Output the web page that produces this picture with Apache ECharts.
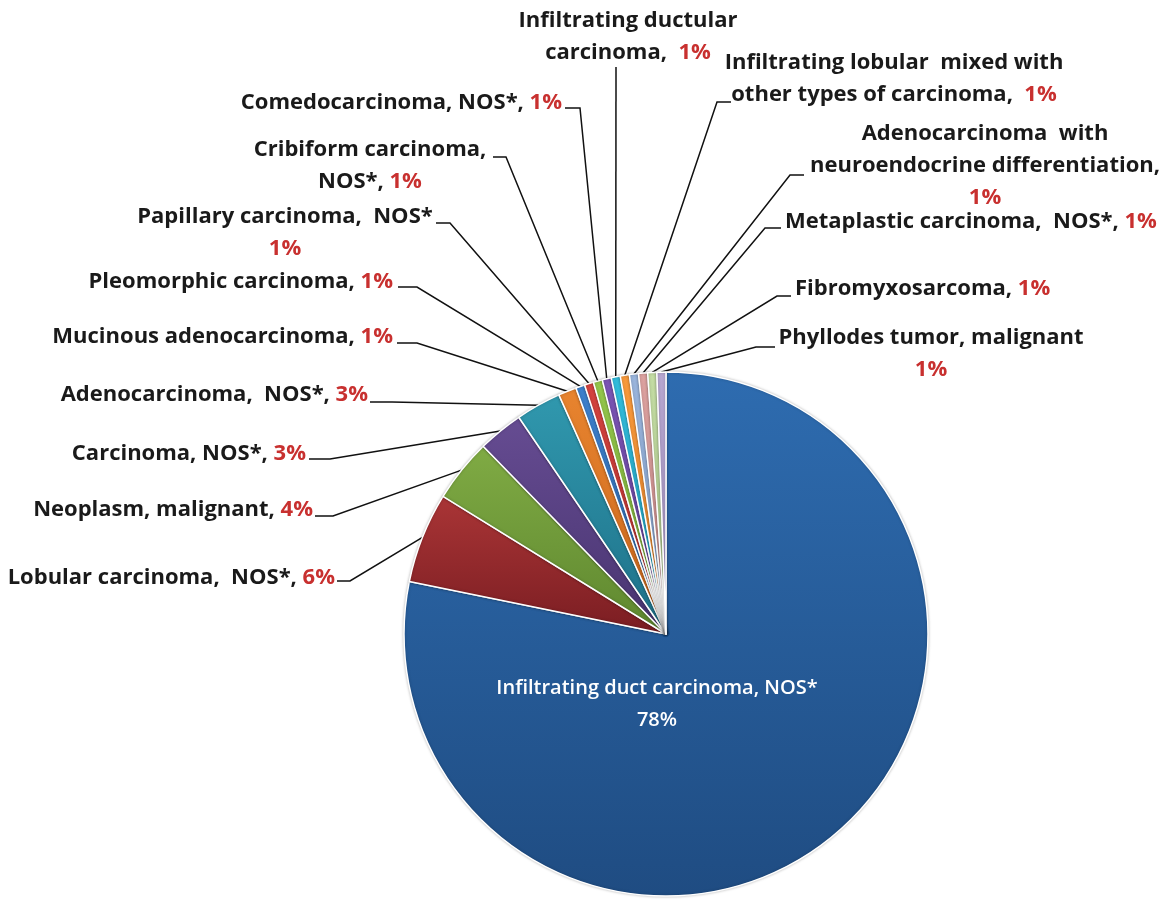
<!DOCTYPE html>
<html>
<head>
<meta charset="utf-8">
<script src="https://cdn.jsdelivr.net/npm/echarts@6/dist/echarts.min.js"></script>
<style>
html, body { margin: 0; background: #fff; }
#main { width: 1165px; height: 902px; }
</style>
</head>
<body>
<div id="main"></div>
<script>
var categories = [
	'Infiltrating duct carcinoma, NOS*', 'Lobular carcinoma, NOS*', 'Neoplasm, malignant',
	'Carcinoma, NOS*', 'Adenocarcinoma, NOS*', 'Mucinous adenocarcinoma', 'Pleomorphic carcinoma',
	'Papillary carcinoma, NOS*', 'Cribiform carcinoma, NOS*', 'Comedocarcinoma, NOS*',
	'Infiltrating ductular carcinoma', 'Infiltrating lobular mixed with other types of carcinoma',
	'Adenocarcinoma with neuroendocrine differentiation', 'Metaplastic carcinoma, NOS*',
	'Fibromyxosarcoma', 'Phyllodes tumor, malignant'
];
// number of cases per type
var cases = [140, 10, 7, 5, 5, 2, 1, 1, 1, 1, 1, 1, 1, 1, 1, 1];
// label text as printed (line breaks included), percentage is appended
var labelNames = [
	'Infiltrating duct carcinoma, NOS*\n',
	'Lobular carcinoma,  NOS*, ',
	'Neoplasm, malignant, ',
	'Carcinoma, NOS*, ',
	'Adenocarcinoma,  NOS*, ',
	'Mucinous adenocarcinoma, ',
	'Pleomorphic carcinoma, ',
	'Papillary carcinoma,  NOS*\n',
	'Cribiform carcinoma,\nNOS*, ',
	'Comedocarcinoma, NOS*, ',
	'Infiltrating ductular\ncarcinoma,  ',
	'Infiltrating lobular  mixed with\nother types of carcinoma,  ',
	'Adenocarcinoma  with\nneuroendocrine differentiation,\n',
	'Metaplastic carcinoma,  NOS*, ',
	'Fibromyxosarcoma, ',
	'Phyllodes tumor, malignant\n'
];

var sliceColors = [
	['#2E6CB0', '#1F4C82'], ['#AA3536', '#7A1D22'], ['#80AB44', '#5E872F'],
	['#664C92', '#483470'], ['#3098AE', '#1E7088'], ['#E8842F', '#C9661C'],
	['#3E80CC', '#2E68AC'], ['#D4433F', '#B83230'], ['#94C64C', '#7AAE38'],
	['#7B55B4', '#64409A'], ['#33BCDB', '#1FA0C0'], ['#F89A3C', '#E8842A'],
	['#9AB5DC', '#85A2CC'], ['#DCA2A0', '#CC8C8A'], ['#C4DCA4', '#AECB8C'],
	['#B7A7D0', '#A08EBE']
];

// label placement: x, y, align, elbow x, elbow y, line end x
var labelSpots = [
	[657, 704, 'center'],
	[335, 578, 'right', 350, 581, 337],
	[313, 510, 'right', 333, 516, 315],
	[306, 454, 'right', 330, 459, 309],
	[368, 395, 'right', 392, 402, 370],
	[393, 337, 'right', 417, 343, 397],
	[393, 282, 'right', 417, 287, 398],
	[285, 233, 'center', 450, 223, 436],
	[370, 166, 'center', 506, 157, 493],
	[562, 103, 'right', 580, 108, 565],
	[628, 37, 'center', 616, 67, 616],
	[894, 79, 'center', 717, 102, 731],
	[985, 166, 'center', 790, 175, 804],
	[785, 222, 'left', 765, 228, 781],
	[795, 289, 'left', 777, 296, 791],
	[931, 354, 'center', 756, 347, 775]
];

var total = 0;
for (var i = 0; i < cases.length; i++) {
	total += cases[i];
}

var pieData = [];
for (var i = 0; i < cases.length; i++) {
	pieData.push({
		name : categories[i],
		value : cases[i],
		itemStyle : {
			color : new echarts.graphic.LinearGradient(0, 0, 0, 1, [
				{ offset : 0, color : sliceColors[i][0] },
				{ offset : 1, color : sliceColors[i][1] }
			])
		}
	});
}
pieData[0].labelLine = { show : false };

var myChart = echarts.init(document.getElementById('main'));

var txt = {
	fontFamily : 'Open Sans',
	fontWeight : 'bold',
	fontSize : 22,
	lineHeight : 32
};

var option = {
	animation : false,
	series : [
		{
			type : 'pie',
			center : [666, 634],
			radius : 262,
			startAngle : 90,
			clockwise : true,
			avoidLabelOverlap : false,
			data : pieData,
			itemStyle : {
				borderColor : '#fff',
				borderWidth : 1.5,
				shadowBlur : 3,
				shadowColor : 'rgba(0,0,0,0.25)'
			},
			label : {
				show : true,
				position : 'outside',
				formatter : function(p) {
					var pct = Math.round(p.value / total * 100) + '%';
					if (p.dataIndex === 0) {
						return '{w|' + labelNames[0] + pct + '}';
					}
					return '{n|' + labelNames[p.dataIndex] + '}{p|' + pct + '}';
				},
				rich : {
					n : Object.assign({ color : '#1a1a1a' }, txt),
					p : Object.assign({ color : '#C8302F' }, txt),
					w : Object.assign({ color : '#ffffff' }, txt, { fontWeight : 600, fontSize : 20 })
				}
			},
			labelLine : {
				show : true,
				lineStyle : {
					color : '#111',
					width : 1.5
				}
			},
			labelLayout : function(params) {
				var s = labelSpots[params.dataIndex];
				var out = {
					x : s[0],
					y : s[1],
					align : s[2],
					verticalAlign : 'middle'
				};
				if (params.dataIndex > 0 && params.labelLinePoints) {
					var a = params.labelLinePoints[0];
					out.labelLinePoints = [a, [s[3], s[4]], [s[5], s[4]]];
				}
				return out;
			}
		}
	]
};
myChart.setOption(option);
</script>
</body>
</html>
